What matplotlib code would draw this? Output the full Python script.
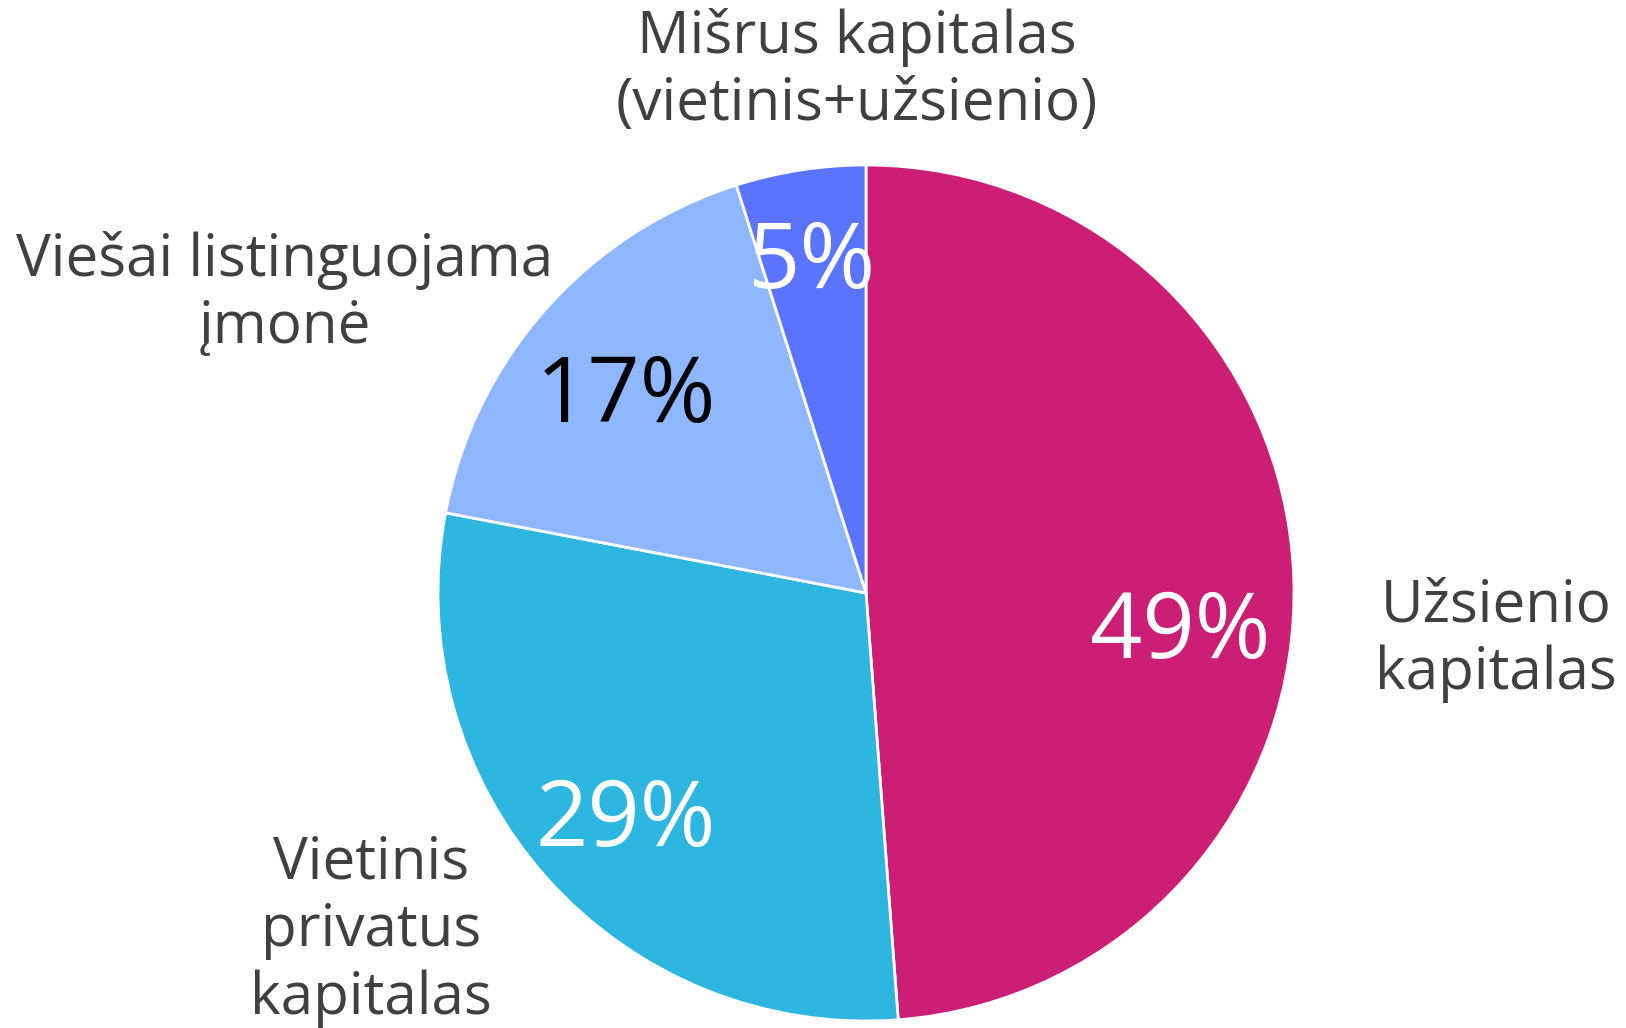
import matplotlib.pyplot as plt

# Data
labels = ["Užsienio\nkapitalas", "Vietinis\nprivatus\nkapitalas",
          "Viešai listinguojama\nįmonė", "Mišrus kapitalas\n(vietinis+užsienio)"]
shares = [48.8, 29.2, 17.1, 4.9]
colors = ["#CB1E74", "#2DB6E0", "#8FB7FF", "#5B74FF"]
pct_colors = ["white", "white", "black", "white"]

# Layout (offsets from pie centre, in radius units)
label_offsets = [(1.472, -0.110), (-1.157, -0.790), (-1.359, 0.698), (-0.021, 1.220)]
pct_offsets = [(0.735, -0.097), (-0.561, -0.536), (-0.561, 0.455), (-0.127, 0.767)]

W, H = 1626, 1028
cx, cy, R = 866, 435, 428

plt.rcParams["font.family"] = ["Open Sans", "DejaVu Sans"]

fig = plt.figure(figsize=(W / 100, H / 100), dpi=100)
ax = fig.add_axes([0, 0, 1, 1])

wedges, texts, autotexts = ax.pie(
    shares, labels=labels, colors=colors, startangle=90, counterclock=False,
    center=(cx, cy), radius=R, autopct="%.0f%%",
    wedgeprops=dict(edgecolor="white", linewidth=2),
)

for t, (dx, dy) in zip(texts, label_offsets):
    t.set_position((cx + dx * R, cy + dy * R))
    t.set_ha("center")
    t.set_va("center")
    t.set_fontsize(42)
    t.set_color("#404040")
    t.set_linespacing(1.2)

for t, (dx, dy), c in zip(autotexts, pct_offsets, pct_colors):
    t.set_position((cx + dx * R, cy + dy * R))
    t.set_ha("center")
    t.set_va("center")
    t.set_fontsize(66)
    t.set_color(c)

ax.set_xlim(0, W)
ax.set_ylim(0, H)
ax.set_aspect("equal")
ax.axis("off")

fig.savefig("out.png", dpi=100)
